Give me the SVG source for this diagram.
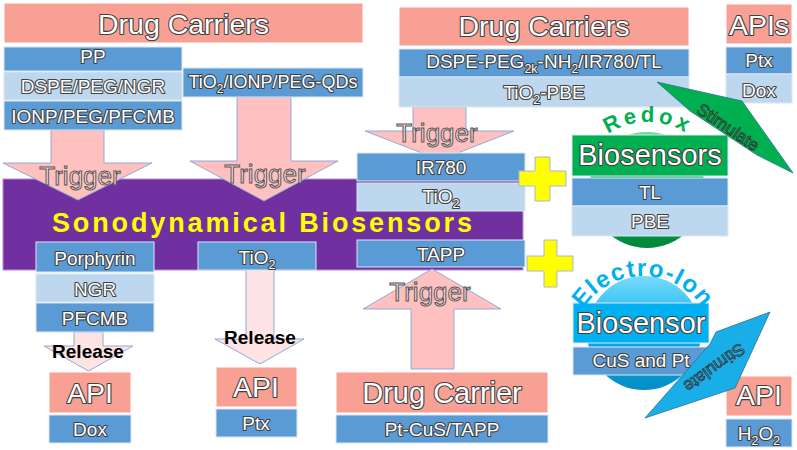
<svg xmlns="http://www.w3.org/2000/svg" width="797" height="450" viewBox="0 0 797 450">
<defs>
<linearGradient id="gGreen" x1="0" y1="0" x2="0" y2="1">
<stop offset="0" stop-color="#6FDC98"/><stop offset="0.45" stop-color="#00B050"/><stop offset="1" stop-color="#00873C"/>
</linearGradient>
<linearGradient id="gCyan" x1="0" y1="0" x2="0" y2="1">
<stop offset="0" stop-color="#7ADAFB"/><stop offset="0.5" stop-color="#00B0F0"/><stop offset="1" stop-color="#078DC4"/>
</linearGradient>
<path id="arcRedox" d="M578,192 A70,70 0 0 1 718,192"/>
<path id="arcIon" d="M581.5,382.5 A71,71 0 1 1 704.5,382.5"/>
</defs>
<style>
.sal{fill:#F8A094;stroke:#fff;stroke-width:1}
.db{fill:#5B9BD5;stroke:#DCE6F2;stroke-width:1}
.lb{fill:#BDD7EE;stroke:#DCE6F2;stroke-width:1}
.t{font-family:"Liberation Sans",Arial,sans-serif;text-anchor:middle;fill:#fff;stroke:#3F3F3F;stroke-width:2.2;paint-order:stroke;stroke-linejoin:round}
.s19{font-size:19px}
.big{font-size:28.5px}
.trg{font-family:"Liberation Sans",Arial,sans-serif;text-anchor:middle;font-size:26px;fill:#FCD6D6;stroke:#595959;stroke-width:1}
.rel{font-family:"Liberation Sans",Arial,sans-serif;text-anchor:middle;font-size:19px;font-weight:bold;fill:#000}
.arw{fill:#FFC0C0;stroke:#8FAADC;stroke-width:1}
.arwl{fill:#FDE3E3;stroke:#8FAADC;stroke-width:1}
.plus{fill:#FFFF00;stroke:#A5B8D3;stroke-width:1}
</style>

<g id="sonodynamical">
<rect x="3" y="179" width="520" height="91" fill="#7030A0" stroke="#B48ED4" stroke-width="1"/>
</g>

<g id="connectors">
<polygon class="arw" points="51,130 104,130 104,163 152,163 78,200 3,163 51,163"/>
<polygon class="arw" points="237,97 291,97 291,161 338,161 264,201 190,161 237,161"/>
<polygon class="arw" points="413,107 466,107 466,131 514,131 440,160 365,131 413,131"/>
<polygon class="arw" points="411,369 454,369 454,309 501,309 432,269 363,309 411,309"/>
<polygon class="arwl" points="74,332 103,332 103,346 133,346 88.5,371 44,346 74,346"/>
<polygon class="arwl" points="246,269 274,269 274,339 304,339 260,364 215,339 246,339"/>
</g>

<g id="drug-carriers-left">
<rect class="sal" x="4" y="3" width="359" height="40"/>
<rect class="db" x="4" y="47" width="178" height="24"/>
<rect class="lb" x="4" y="72" width="178" height="28"/>
<rect class="db" x="4" y="101" width="178" height="29"/>
<rect class="db" x="183" y="68" width="180" height="29"/>
</g>

<g id="drug-carriers-mid">
<rect class="sal" x="399" y="7" width="290" height="39"/>
<rect class="db" x="399" y="49" width="290" height="28"/>
<rect class="lb" x="399" y="77" width="290" height="30"/>
</g>

<g id="apis-top">
<rect class="sal" x="726" y="4" width="66" height="40"/>
<rect class="db" x="726" y="47" width="66" height="27"/>
<rect class="lb" x="726" y="74" width="66" height="29"/>
</g>

<g id="sono-boxes">
<rect class="db" x="36" y="242" width="118" height="30"/>
<rect class="lb" x="36" y="274" width="118" height="28"/>
<rect class="db" x="36" y="303" width="118" height="29"/>
<rect class="db" x="198" y="242" width="118" height="28"/>
<rect class="db" x="357" y="153" width="168" height="28"/>
<rect class="lb" x="357" y="183" width="168" height="28"/>
<rect class="db" x="357" y="240" width="168" height="27"/>
</g>

<g id="api-left">
<rect class="sal" x="49" y="372" width="82" height="41"/>
<rect class="db" x="49" y="415" width="82" height="28"/>
</g>
<g id="api-mid">
<rect class="sal" x="216" y="367" width="81" height="40"/>
<rect class="db" x="216" y="409" width="81" height="28"/>
</g>
<g id="drug-carrier-bottom">
<rect class="sal" x="336" y="372" width="212" height="41"/>
<rect class="db" x="336" y="415" width="212" height="28"/>
</g>

<g id="redox-biosensors">
<circle cx="647" cy="190" r="58" fill="url(#gGreen)"/>
<rect x="572" y="135" width="156" height="41" fill="#00B050" stroke="#DCE6F2" stroke-width="1"/>
<rect class="db" x="572" y="178" width="156" height="28"/>
<rect class="lb" x="572" y="206" width="156" height="30"/>
</g>

<g id="electro-ion-biosensor">
<circle cx="644" cy="333" r="57" fill="url(#gCyan)"/>
<rect x="573" y="303" width="136" height="40" fill="#00B0F0" stroke="#DCE6F2" stroke-width="1"/>
<rect class="db" x="573" y="347" width="136" height="28"/>
</g>

<g id="api-right">
<rect class="sal" x="726" y="376" width="66" height="40"/>
<rect class="db" x="726" y="419" width="66" height="28"/>
</g>

<g id="stimulate-arrows">
<polygon points="657,82 742,101 793,173 757,155 690,111" fill="#00B050" stroke="#2F6F8F" stroke-width="0.8"/>
<polygon points="645,418 710,344 716,332 770,312 735,388" fill="#1AAEE8" stroke="#2F6F8F" stroke-width="0.8"/>
</g>

<g id="plus-signs">
<path class="plus" d="M535,157 H550 V171 H566 V186 H550 V201 H535 V186 H519 V171 H535 Z"/>
<path class="plus" d="M544,240 H557 V256 H573 V271 H557 V287 H544 V271 H527 V256 H544 Z"/>
</g>

<g id="labels">
<text class="t big" x="183.5" y="33.5">Drug Carriers</text>
<text class="t s19" x="93" y="63">PP</text>
<text class="t s19" x="93" y="93">DSPE/PEG/NGR</text>
<text class="t s19" x="93" y="123">IONP/PEG/PFCMB</text>
<text class="t" x="273" y="88" font-size="18">TiO<tspan dy="5" font-size="12">2</tspan><tspan dy="-5">/IONP/PEG-QDs</tspan></text>

<text class="t big" x="544" y="36">Drug Carriers</text>
<text class="t" x="544" y="68" font-size="19">DSPE-PEG<tspan dy="5" font-size="12.5">2k</tspan><tspan dy="-5">-NH</tspan><tspan dy="5" font-size="12.5">2</tspan><tspan dy="-5">/IR780/TL</tspan></text>
<text class="t s19" x="544" y="99">TiO<tspan dy="5" font-size="12.5">2</tspan><tspan dy="-5">-PBE</tspan></text>

<text class="t big" x="759" y="35">APIs</text>
<text class="t s19" x="759" y="67">Ptx</text>
<text class="t s19" x="759" y="97">Dox</text>

<text class="trg" x="80" y="185">Trigger</text>
<text class="trg" x="265" y="183">Trigger</text>
<text class="trg" x="437" y="142">Trigger</text>
<text class="trg" x="430" y="301">Trigger</text>

<text x="262" y="232" font-family="'Liberation Sans',Arial,sans-serif" font-size="27" font-weight="bold" fill="#FFFF00" text-anchor="middle" textLength="420" lengthAdjust="spacing">Sonodynamical Biosensors</text>

<text class="t s19" x="95" y="265">Porphyrin</text>
<text class="t s19" x="95" y="296">NGR</text>
<text class="t s19" x="95" y="325">PFCMB</text>
<text class="t s19" x="257" y="264">TiO<tspan dy="5" font-size="12.5">2</tspan></text>
<text class="t s19" x="441" y="174">IR780</text>
<text class="t s19" x="441" y="203">TiO<tspan dy="5" font-size="12.5">2</tspan></text>
<text class="t s19" x="441" y="261">TAPP</text>

<text class="rel" x="88" y="358">Release</text>
<text class="rel" x="260" y="344">Release</text>

<text class="t big" x="90" y="403">API</text>
<text class="t s19" x="90" y="436">Dox</text>
<text class="t big" x="256" y="397">API</text>
<text class="t s19" x="256" y="430">Ptx</text>
<text class="t" x="442" y="403" font-size="29">Drug Carrier</text>
<text class="t s19" x="442" y="436">Pt-CuS/TAPP</text>

<text font-family="'Liberation Sans',Arial,sans-serif" font-size="22" font-weight="bold" fill="#00B050" letter-spacing="3.5" text-anchor="middle"><textPath href="#arcRedox" startOffset="50%">Redox</textPath></text>
<text class="t" x="650" y="165" font-size="29">Biosensors</text>
<text class="t s19" x="650" y="199">TL</text>
<text class="t s19" x="650" y="228">PBE</text>

<text font-family="'Liberation Sans',Arial,sans-serif" font-size="24" font-weight="bold" fill="#00B0F0" letter-spacing="1.5" text-anchor="middle"><textPath href="#arcIon" startOffset="50%">Electro-Ion</textPath></text>
<text class="t" x="641" y="333" font-size="29">Biosensor</text>
<text class="t s19" x="641" y="367">CuS and Pt</text>

<text class="t big" x="759" y="405">API</text>
<text class="t s19" x="759" y="440">H<tspan dy="5" font-size="12.5">2</tspan><tspan dy="-5">O</tspan><tspan dy="5" font-size="12.5">2</tspan></text>

<text font-family="'Liberation Sans',Arial,sans-serif" font-size="17" fill="#00B050" stroke="#333" stroke-width="0.8" text-anchor="middle" transform="translate(725,132) rotate(34)">Stimulate</text>
<text font-family="'Liberation Sans',Arial,sans-serif" font-size="17" fill="#1AAEE8" stroke="#333" stroke-width="0.8" text-anchor="middle" transform="translate(711,363) rotate(144)">Stimulate</text>
</g>
</svg>
